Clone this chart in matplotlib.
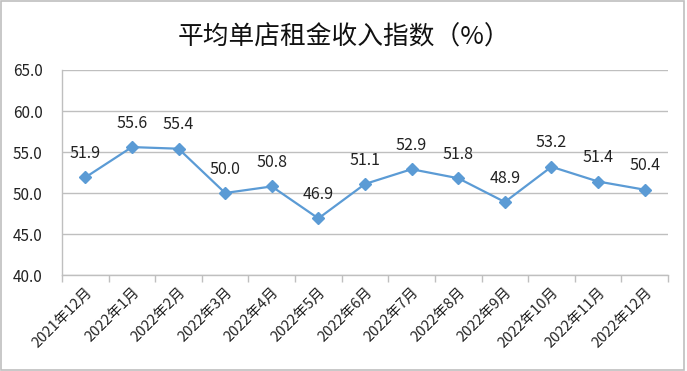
import matplotlib
matplotlib.use("Agg")
import matplotlib.pyplot as plt
import numpy as np
from matplotlib.patches import Rectangle

plt.rcParams['font.family'] = ['Noto Sans CJK SC', 'DejaVu Sans']

categories = ["2021年12月", "2022年1月", "2022年2月", "2022年3月", "2022年4月",
              "2022年5月", "2022年6月", "2022年7月", "2022年8月", "2022年9月",
              "2022年10月", "2022年11月", "2022年12月"]
values = [51.9, 55.6, 55.4, 50.0, 50.8, 46.9, 51.1, 52.9, 51.8, 48.9, 53.2, 51.4, 50.4]
yticks = [40.0, 45.0, 50.0, 55.0, 60.0, 65.0]

fig = plt.figure(figsize=(6.87, 3.71), dpi=100)
ax = fig.add_axes([62/687, 1-275/371, (668-62)/687, (275-70)/371])

x = np.arange(len(categories))
ax.plot(x, values, color='#5B9BD5', lw=1.6, marker='D', ms=6, mfc='#5B9BD5', mec='#5B9BD5', zorder=3)
for xi, v in zip(x, values):
    ax.annotate(f"{v:.1f}", (xi, v), xytext=(0, 11), textcoords='offset points',
                ha='center', va='bottom', fontsize=11.5, color='#222222')

ax.set_xlim(-0.5, len(categories) - 0.5)
ax.set_ylim(40, 65)
ax.set_yticks(yticks)
ax.set_yticklabels([f"{t:.1f}" for t in yticks], fontsize=11, color='#222222')
ax.tick_params(axis='y', length=0, pad=14)
ax.grid(axis='y', color='#BFBFBF', lw=1)
ax.set_axisbelow(True)

ax.set_xticks(x)
ax.set_xticklabels(categories, rotation=45, ha='right', rotation_mode='anchor', fontsize=10.5, color='#222222')
ax.tick_params(axis='x', which='major', length=0, pad=7)
ax.set_xticks(np.arange(-0.5, len(categories)), minor=True)
ax.tick_params(axis='x', which='minor', length=5, color='#BFBFBF', width=1)

for s in ['top', 'right']:
    ax.spines[s].set_visible(False)
for s in ['left', 'bottom']:
    ax.spines[s].set_color('#BFBFBF')
    ax.spines[s].set_linewidth(1)

fig.text(0.5, 1-38/371, "平均单店租金收入指数（%）", ha='center', va='center', fontsize=18.5, color='#111111')

fig.patches.append(Rectangle((0.002, 0.003), 0.994, 0.994, transform=fig.transFigure,
                             fill=False, edgecolor='#BFBFBF', lw=1.2))

fig.savefig("out.png", dpi=100)
